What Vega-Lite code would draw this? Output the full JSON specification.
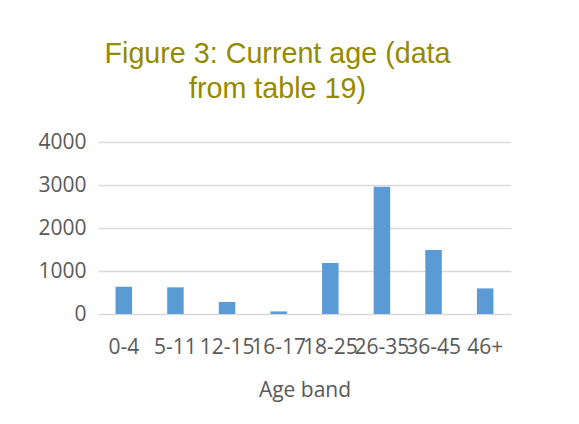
{
  "$schema": "https://vega.github.io/schema/vega-lite/v6.json",
  "width": 413,
  "height": 172,
  "autosize": {"type": "none"},
  "padding": {"left": 98, "top": 142, "right": 68, "bottom": 110},
  "background": "white",
  "config": {"view": {"stroke": null}},
  "title": {
    "text": ["Figure 3: Current age (data", "from table 19)"],
    "font": "Liberation Sans",
    "fontSize": 28.7,
    "fontWeight": "normal",
    "color": "#948A00",
    "lineHeight": 35,
    "anchor": "middle",
    "dx": -27,
    "offset": 27
  },
  "data": {
    "values": [
      {"band": "0-4", "count": 635},
      {"band": "5-11", "count": 620},
      {"band": "12-15", "count": 280},
      {"band": "16-17", "count": 60},
      {"band": "18-25", "count": 1186},
      {"band": "26-35", "count": 2960},
      {"band": "36-45", "count": 1488},
      {"band": "46+", "count": 595}
    ]
  },
  "mark": {"type": "bar", "color": "#5B9BD5"},
  "encoding": {
    "x": {
      "field": "band",
      "type": "nominal",
      "sort": null,
      "scale": {"paddingInner": 0.68, "paddingOuter": 0.34},
      "axis": {
        "title": "Age band",
        "titleFont": "Open Sans",
        "titleFontSize": 21,
        "titleFontWeight": "normal",
        "titleColor": "#595959",
        "titlePadding": 22,
        "labelFont": "Open Sans",
        "labelFontSize": 21,
        "labelColor": "#595959",
        "labelAngle": 0,
        "labelOverlap": false,
        "labelPadding": 22,
        "domain": false,
        "ticks": false,
        "grid": false
      }
    },
    "y": {
      "field": "count",
      "type": "quantitative",
      "scale": {"domain": [0, 4000]},
      "axis": {
        "title": null,
        "values": [0, 1000, 2000, 3000, 4000],
        "format": "d",
        "labelFont": "Open Sans",
        "labelFontSize": 21,
        "labelColor": "#595959",
        "labelPadding": 12,
        "domain": false,
        "ticks": false,
        "grid": true,
        "gridColor": "#D9D9D9",
        "gridWidth": 1.3
      }
    }
  }
}
